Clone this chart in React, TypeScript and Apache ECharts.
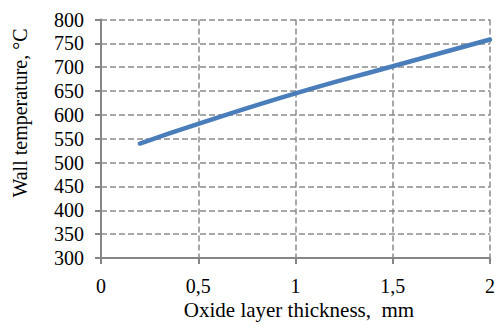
import React, { useEffect, useRef } from "react";
import * as echarts from "echarts";

const thickness = [0.2, 0.5, 1.0, 1.5, 2.0];
const wallTemp = [540, 581, 645, 702, 758];
const yName = "Wall temperature, °C";
const xName = "Oxide layer thickness,  mm";

const FONT = "'Liberation Serif', 'Times New Roman', serif";

export default function App() {
  const ref = useRef<HTMLDivElement>(null);
  useEffect(() => {
    if (!ref.current) return;
    const chart = echarts.init(ref.current, null, { renderer: "svg" });
    chart.setOption({
      animation: false,
      backgroundColor: "#ffffff",
      grid: { left: 101, right: 3, top: 19.5, bottom: 69, containLabel: false },
      xAxis: {
        type: "value",
        min: 0,
        max: 2,
        interval: 0.5,
        axisLine: { show: true, lineStyle: { color: "#868686", width: 2 } },
        axisTick: { show: true, length: 6, lineStyle: { color: "#868686", width: 2 } },
        axisLabel: {
          margin: 18,
          fontFamily: FONT,
          fontSize: 20,
          color: "#000",
          formatter: (v: number) => String(v).replace(".", ","),
        },
        splitLine: { show: true, lineStyle: { color: "#8c8c8c", type: [6, 3], width: 1.5 } },
      },
      yAxis: {
        type: "value",
        min: 300,
        max: 800,
        interval: 50,
        axisLine: { show: true, lineStyle: { color: "#868686", width: 2 } },
        axisTick: { show: true, length: 6, lineStyle: { color: "#868686", width: 2 } },
        axisLabel: { margin: 17, fontFamily: FONT, fontSize: 20, color: "#000" },
        splitLine: { show: true, lineStyle: { color: "#8c8c8c", type: [6, 3], width: 1.5 } },
      },
      graphic: [
        {
          type: "text",
          x: 20,
          y: 113,
          rotation: Math.PI / 2,
          style: {
            text: yName,
            fontFamily: FONT,
            fontSize: 20,
            fill: "#000",
            align: "center",
            verticalAlign: "middle",
          },
        },
        {
          type: "text",
          x: 299,
          y: 310,
          style: {
            text: xName,
            fontFamily: FONT,
            fontSize: 21,
            fill: "#000",
            align: "center",
            verticalAlign: "middle",
          },
        },
      ],
      series: [
        {
          type: "line",
          data: thickness.map((x, i) => [x, wallTemp[i]]),
          smooth: true,
          showSymbol: false,
          lineStyle: { color: "#4a7ebb", width: 4.5, cap: "round" },
        },
      ],
    });
    return () => chart.dispose();
  }, []);
  return <div ref={ref} style={{ width: 498, height: 327, position: "absolute", left: 0, top: 0 }} />;
}
